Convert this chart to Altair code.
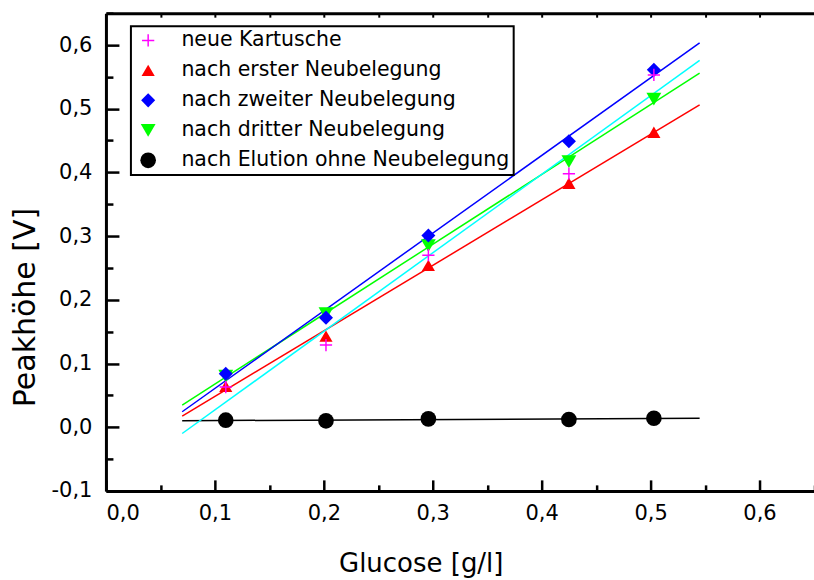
import altair as alt
import pandas as pd

# ---- data ----
glucose = [0.110, 0.202, 0.296, 0.425, 0.503]
series_names = [
    "neue Kartusche",
    "nach erster Neubelegung",
    "nach zweiter Neubelegung",
    "nach dritter Neubelegung",
    "nach Elution ohne Neubelegung",
]
neue_kartusche = [0.063, 0.129, 0.270, 0.398, 0.553]
erste_neubelegung = [0.064, 0.143, 0.254, 0.383, 0.463]
zweite_neubelegung = [0.084, 0.172, 0.301, 0.449, 0.561]
dritte_neubelegung = [0.080, 0.178, 0.285, 0.417, 0.515]
elution_ohne = [0.011, 0.010, 0.013, 0.012, 0.014]
fit_extent = [0.07, 0.545]

x_major = [0.0, 0.1, 0.2, 0.3, 0.4, 0.5, 0.6]
x_minor = [0.05, 0.15, 0.25, 0.35, 0.45, 0.55, 0.65]
x_top = [0.05, 0.1, 0.15, 0.2, 0.25, 0.3, 0.35, 0.4, 0.45, 0.5, 0.55, 0.6, 0.65]
y_major = [-0.1, 0.0, 0.1, 0.2, 0.3, 0.4, 0.5, 0.6]
y_minor = [-0.05, 0.05, 0.15, 0.25, 0.35, 0.45, 0.55, 0.65]

marker_colors = ["#ff00ff", "#ff0000", "#0000ff", "#00ff00", "#000000"]
line_colors = ["#00ffff", "#ff0000", "#0000ff", "#00ff00", "#000000"]
PLUS = "M-1,-0.12H-0.12V-1H0.12V-0.12H1V0.12H0.12V1H-0.12V0.12H-1Z"
shapes = [PLUS, "triangle-up", "diamond", "triangle-down", "circle"]
marker_sizes = [150, 245, 215, 245, 140]
fit_names = ["Fit: " + s for s in series_names]

values = [neue_kartusche, erste_neubelegung, zweite_neubelegung,
          dritte_neubelegung, elution_ohne]
draw_order = [4, 3, 2, 1, 0]
rows = []
for i in draw_order:
    for gx, gy in zip(glucose, values[i]):
        rows.append({"x": gx, "y": gy, "series": series_names[i]})
df = pd.DataFrame(rows)

W, H = 708.5, 478
FONT = "DejaVu Sans"
xs = alt.Scale(domain=[0, 0.65], nice=False, zero=False)
ys = alt.Scale(domain=[-0.1, 0.65], nice=False, zero=False)
LBL = "(datum.value < 0 ? '-' : '') + replace(format(abs(datum.value), '.1f'), '.', ',')"

base = alt.Chart(df)

# layer 1: regression lines + main axes (labels, titles, domain)
lines = base.transform_regression(
    "x", "y", groupby=["series"], extent=fit_extent
).transform_calculate(
    fit="'Fit: ' + datum.series"
).mark_line(strokeWidth=1.5).encode(
    x=alt.X("x:Q", scale=xs, axis=alt.Axis(
        orient="bottom", values=x_major, labelExpr=LBL, ticks=False, tickSize=0,
        labelPadding=12, labelFont=FONT, labelFontSize=21, labelColor="black",
        domain=True, domainColor="black", domainWidth=3, grid=False,
        title="Glucose [g/l]", titleFont=FONT, titleFontSize=26,
        titleFontWeight="normal", titleColor="black", titleX=315, titleY=81,
        titleAlign="center", titleBaseline="alphabetic", titleAngle=0)),
    y=alt.Y("y:Q", scale=ys, axis=alt.Axis(
        orient="left", values=y_major, labelExpr=LBL, ticks=False, tickSize=0,
        labelPadding=14, labelFont=FONT, labelFontSize=21, labelColor="black",
        domain=True, domainColor="black", domainWidth=3, grid=False,
        title="Peakhöhe [V]", titleFont=FONT, titleFontSize=30,
        titleFontWeight="normal", titleColor="black", titleX=-71, titleY=294,
        titleAlign="center", titleBaseline="alphabetic", titleAngle=270)),
    stroke=alt.Stroke("fit:N", scale=alt.Scale(domain=fit_names, range=line_colors),
                      legend=None),
)

# layer 2: markers + inward major ticks
points = base.mark_point(filled=True, opacity=1).encode(
    x=alt.X("x:Q", scale=xs, axis=alt.Axis(
        orient="top", offset=-H, values=x_major, labels=False, domain=False,
        ticks=True, tickSize=11, tickWidth=2.5, tickColor="black", grid=False, title=None)),
    y=alt.Y("y:Q", scale=ys, axis=alt.Axis(
        orient="right", offset=-W, values=y_major, labels=False, domain=False,
        ticks=True, tickSize=13, tickWidth=2.5, tickColor="black", grid=False, title=None)),
    color=alt.Color("series:N", scale=alt.Scale(domain=series_names, range=marker_colors),
                    legend=alt.Legend(
                        title=None, orient="none", legendX=25, legendY=13,
                        direction="vertical", labelFont=FONT, labelFontSize=20.5,
                        labelColor="black", labelLimit=500, symbolStrokeWidth=0,
                        padding=4, rowPadding=9, labelOffset=23, symbolOffset=3,
                        strokeColor="black", fillColor="white", cornerRadius=0)),
    shape=alt.Shape("series:N", scale=alt.Scale(domain=series_names, range=shapes)),
    size=alt.Size("series:N", scale=alt.Scale(domain=series_names, range=marker_sizes)),
)

# layer 3: inward minor ticks
minor = base.mark_point(opacity=0).encode(
    x=alt.X("x:Q", scale=xs, axis=alt.Axis(
        orient="top", offset=-H, values=x_minor, labels=False, domain=False,
        ticks=True, tickSize=6, tickWidth=2.5, tickColor="black", grid=False, title=None)),
    y=alt.Y("y:Q", scale=ys, axis=alt.Axis(
        orient="right", offset=-W, values=y_minor, labels=False, domain=False,
        ticks=True, tickSize=7, tickWidth=2.5, tickColor="black", grid=False, title=None)),
)

# layer 4: top frame line with small inward ticks
top = base.mark_point(opacity=0).encode(
    x=alt.X("x:Q", scale=xs, axis=alt.Axis(
        orient="bottom", offset=-H, values=x_top, labels=False, domain=True,
        domainColor="black", domainWidth=3, ticks=True, tickSize=4, tickWidth=2,
        tickColor="black", grid=False, title=None)),
    y=alt.Y("y:Q", scale=ys, axis=None),
)

chart = alt.layer(lines, points, minor, top).resolve_axis(
    x="independent", y="independent"
).properties(
    width=W, height=H,
    autosize=alt.AutoSizeParams(type="none"),
    padding={"left": 106, "top": 13, "right": 0, "bottom": 89},
    background="white",
).configure_view(stroke=None).configure_legend(strokeWidth=2)

chart.save("out.html", embed_options={"renderer": "svg", "actions": False})
